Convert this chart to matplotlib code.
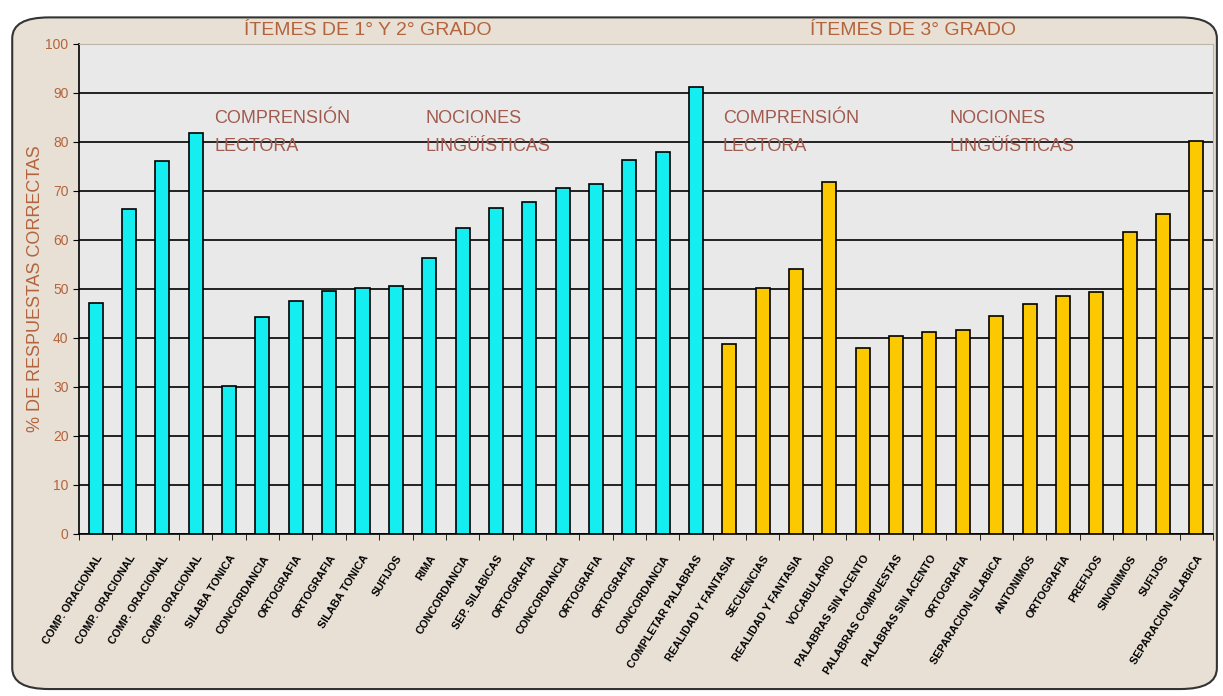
import matplotlib.pyplot as plt
from matplotlib.patches import FancyBboxPatch
import numpy as np

labels_12 = [
    "COMP. ORACIONAL", "COMP. ORACIONAL", "COMP. ORACIONAL", "COMP. ORACIONAL",
    "SILABA TONICA", "CONCORDANCIA", "ORTOGRAFIA", "ORTOGRAFIA", "SILABA TONICA",
    "SUFIJOS", "RIMA", "CONCORDANCIA", "SEP. SILABICAS", "ORTOGRAFIA",
    "CONCORDANCIA", "ORTOGRAFIA", "ORTOGRAFIA", "CONCORDANCIA", "COMPLETAR PALABRAS",
]
values_12 = [47.1, 66.3, 76.1, 81.8, 30.1, 44.2, 47.5, 49.5, 50.1, 50.7,
             56.4, 62.5, 66.6, 67.8, 70.7, 71.5, 76.4, 78.0, 91.2]

labels_3 = [
    "REALIDAD Y FANTASIA", "SECUENCIAS", "REALIDAD Y FANTASIA", "VOCABULARIO",
    "PALABRAS SIN ACENTO", "PALABRAS COMPUESTAS", "PALABRAS SIN ACENTO",
    "ORTOGRAFIA", "SEPARACION SILABICA", "ANTONIMOS", "ORTOGRAFIA", "PREFIJOS",
    "SINONIMOS", "SUFIJOS", "SEPARACION SILABICA",
]
values_3 = [38.8, 50.1, 54.0, 71.9, 38.0, 40.4, 41.2, 41.6, 44.5, 46.9,
            48.6, 49.4, 61.7, 65.4, 80.1]

fonts = ["Liberation Sans Narrow", "Liberation Sans", "DejaVu Sans"]
brown = "#b4643c"
note_color = "#a05a4e"

fig = plt.figure(figsize=(12.23, 6.96), dpi=100)
fig.patch.set_facecolor("white")

# rounded beige frame behind everything
bg = fig.add_axes([0, 0, 1, 1], zorder=-10)
bg.set_xlim(0, 1)
bg.set_ylim(0, 1)
bg.axis("off")
bg.add_patch(FancyBboxPatch((0.010, 0.010), 0.985, 0.965,
                            boxstyle="round,pad=0,rounding_size=0.03",
                            facecolor="#e8e0d5", edgecolor="#333333",
                            linewidth=1.5))

ax = fig.add_axes([0.0646, 0.2328, 0.9272, 0.704])
ax.set_facecolor("#e9e9e9")

n12 = len(values_12)
x12 = np.arange(n12)
x3 = np.arange(n12, n12 + len(values_3))
ax.bar(x12, values_12, width=0.42, color="#14eef0", edgecolor="black",
       linewidth=1.2, zorder=3)
ax.bar(x3, values_3, width=0.42, color="#fcc800", edgecolor="black",
       linewidth=1.2, zorder=3)

ax.set_xlim(-0.5, n12 + len(values_3) - 0.5)
ax.set_ylim(0, 100)
ax.set_yticks(range(0, 101, 10))
ax.yaxis.grid(True, color="black", linewidth=1.2, zorder=1)
ax.set_axisbelow(True)

ax.set_xticks(np.concatenate([x12, x3]))
ax.set_xticklabels(labels_12 + labels_3, rotation=58, ha="right",
                   rotation_mode="anchor", fontsize=7.8, fontweight="bold",
                   family=fonts)
ax.set_xticks(np.arange(-0.5, n12 + len(values_3), 1), minor=True)
ax.tick_params(axis="x", which="major", length=0, pad=14)
ax.tick_params(axis="x", which="minor", length=4, color="black")
ax.tick_params(axis="y", length=4, colors=brown, labelsize=10)
ax.tick_params(axis="y", color="black")
for t in ax.get_yticklabels():
    t.set_family(fonts)

for side in ["top", "right"]:
    ax.spines[side].set_color("#bdb5aa")
ax.spines["left"].set_linewidth(1.2)
ax.spines["bottom"].set_linewidth(1.2)

ax.set_ylabel("% DE RESPUESTAS CORRECTAS", color=brown, fontsize=13,
              family=fonts, labelpad=1)

notes = [(3.55, "COMPRENSIÓN\nLECTORA"), (9.9, "NOCIONES\nLINGÜÍSTICAS"),
         (18.8, "COMPRENSIÓN\nLECTORA"), (25.6, "NOCIONES\nLINGÜÍSTICAS")]
for xpos, text in notes:
    ax.text(xpos, 86.5, text, color=note_color, fontsize=13, family=fonts,
            va="top", ha="left", linespacing=1.8, zorder=4)

ax.text(8.17, 101.0, "ÍTEMES DE 1° Y 2° GRADO", color=brown,
        fontsize=14, family=fonts, ha="center", va="bottom")
ax.text(24.5, 101.0, "ÍTEMES DE 3° GRADO",
        color=brown, fontsize=14, family=fonts, ha="center", va="bottom")

fig.savefig("out.png", dpi=100, facecolor=fig.get_facecolor())
